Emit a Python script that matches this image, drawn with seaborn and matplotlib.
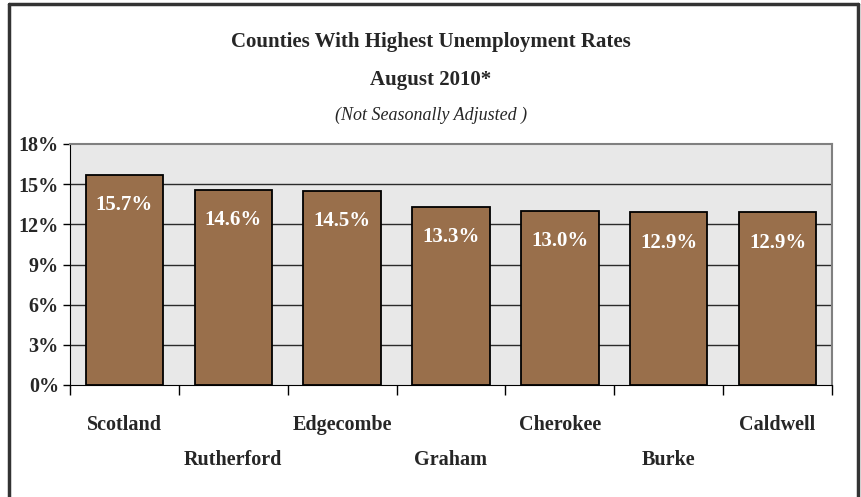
import numpy as np
import pandas as pd
import matplotlib
matplotlib.use("Agg")
import matplotlib.pyplot as plt
import seaborn as sns
from matplotlib.lines import Line2D
from matplotlib.ticker import FixedLocator

counties = ["Scotland", "Rutherford", "Edgecombe", "Graham", "Cherokee", "Burke", "Caldwell"]
rates = [15.7, 14.6, 14.5, 13.3, 13.0, 12.9, 12.9]
y_ticks = [0, 3, 6, 9, 12, 15, 18]

df = pd.DataFrame({"County": counties, "Rate": rates})

sns.set_style("white")
plt.rcParams["font.family"] = ["Liberation Serif", "DejaVu Serif"]

fig = plt.figure(figsize=(8.62, 4.97), dpi=100)
ax = fig.add_axes([70 / 862, 1 - 385 / 497, 762 / 862, 241 / 497])
ax.set_facecolor("#e8e8e8")

sns.barplot(data=df, x="County", y="Rate", ax=ax, color="#996f4b",
            saturation=1, width=0.71, edgecolor="black", linewidth=1.3, zorder=3)

ax.set_ylim(0, 18)
ax.set_xlim(-0.5, len(counties) - 0.5)
ax.set_yticks(y_ticks)
ax.set_yticklabels([f"{t}%" for t in y_ticks], fontsize=14.5, fontweight="bold")
for t in y_ticks[1:-1]:
    ax.axhline(t, color="#2a2a2a", linewidth=1, zorder=1)

# category ticks sit between bars, names staggered on two rows
ax.xaxis.set_major_locator(FixedLocator(np.arange(-0.5, len(counties), 1.0)))
ax.set_xticklabels([])
ax.tick_params(axis="x", direction="out", length=7, width=1, color="black", bottom=True)
ax.tick_params(axis="y", direction="out", length=5, width=1, color="black", left=True, pad=3)
for i, name in enumerate(counties):
    ax.annotate(name, xy=(i, 0), xycoords="data", xytext=(0, -29 - (i % 2) * 25),
                textcoords="offset points", ha="center", va="center",
                fontsize=14.5, fontweight="bold")
    ax.annotate(f"{rates[i]:.1f}%", xy=(i, rates[i]), xytext=(0, -22),
                textcoords="offset points", ha="center", va="center",
                fontsize=15, fontweight="bold", color="white", zorder=5)

ax.set_xlabel("")
ax.set_ylabel("")
for side in ["top", "right"]:
    ax.spines[side].set_color("#808080")
    ax.spines[side].set_linewidth(1.5)
ax.spines["left"].set_color("black")
ax.spines["bottom"].set_color("black")

fig.text(0.5, 1 - 42 / 497, "Counties With Highest Unemployment Rates", ha="center", va="center",
         fontsize=15, fontweight="bold")
fig.text(0.5, 1 - 80 / 497, "August 2010*", ha="center", va="center",
         fontsize=15, fontweight="bold")
fig.text(0.5, 1 - 115 / 497, "(Not Seasonally Adjusted )", ha="center", va="center",
         fontsize=13, style="italic")

# outer frame of the chart area
fig.add_artist(Line2D([9 / 862, 9 / 862], [0, 1 - 4 / 497], transform=fig.transFigure, color="#333333", lw=2.5))
fig.add_artist(Line2D([9 / 862, 858 / 862], [1 - 4 / 497, 1 - 4 / 497], transform=fig.transFigure, color="#333333", lw=2.5))
fig.add_artist(Line2D([858 / 862, 858 / 862], [0, 1 - 4 / 497], transform=fig.transFigure, color="#333333", lw=2.5))

fig.savefig("out.png", dpi=100)
